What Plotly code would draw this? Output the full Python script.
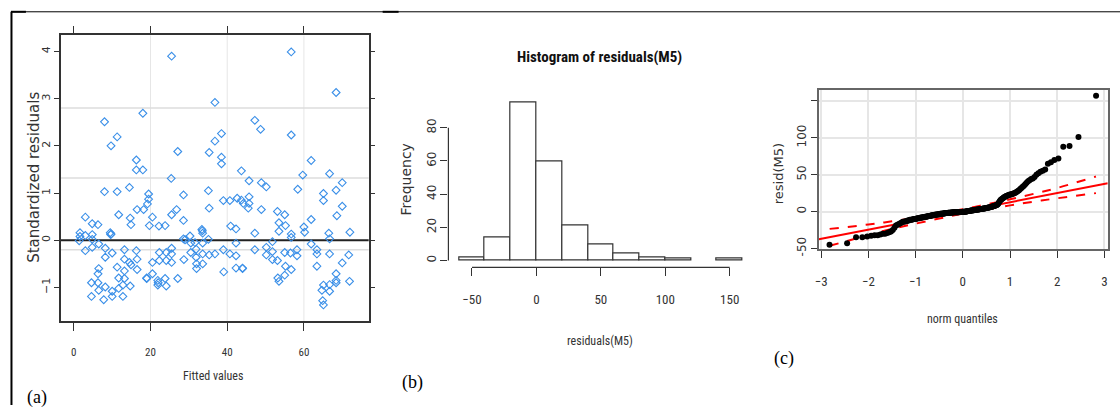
import plotly.graph_objects as go
from statistics import NormalDist

W, H = 1120, 412

# ---------------- Panel (a): standardized residuals vs fitted ----------------
fitted = [1.6, 1.6, 1.4, 3.0, 3.0, 3.0, 4.8, 4.8, 4.8, 4.8, 4.6, 4.6, 6.3, 6.5, 6.5, 6.3, 6.3, 6.5,
          8.0, 8.0, 8.2, 8.2, 8.2, 7.8, 9.7, 9.5, 9.7, 10.0, 10.0, 10.0, 11.3, 11.3, 11.7, 11.3, 11.7, 11.7,
          13.2, 13.2, 13.2, 13.2, 12.8, 12.8, 14.5, 14.7, 14.9, 14.5, 14.9, 14.7, 16.3, 16.3, 16.5, 16.3,
          16.5, 16.5, 18.0, 18.0, 18.2, 19.2, 19.5, 19.5, 19.7, 20.5, 19.0, 19.0, 20.5, 20.5, 21.9, 21.9,
          22.2, 22.3, 22.3, 23.8, 24.1, 24.1, 23.8, 24.1, 25.5, 25.4, 25.5, 25.5, 25.5, 25.5, 27.1, 26.8,
          27.1, 28.6, 28.6, 28.6, 29.0, 28.7, 30.3, 30.5, 30.5, 31.6, 31.9, 31.9, 32.0, 32.0, 33.4, 33.6,
          33.6, 33.6, 33.6, 35.1, 35.3, 35.3, 35.1, 35.3, 36.8, 36.8, 36.8, 38.5, 38.5, 38.5, 39.0, 39.0,
          39.1, 40.7, 40.9, 40.7, 42.3, 42.3, 42.3, 42.3, 42.6, 43.7, 43.7, 44.2, 44.0, 45.7, 45.7, 45.5,
          45.7, 47.2, 47.2, 47.2, 48.7, 48.9, 48.9, 50.2, 50.2, 50.2, 51.8, 51.8, 51.8, 53.1, 53.5, 53.5,
          53.1, 53.2, 53.5, 55.0, 55.2, 55.0, 55.2, 55.0, 56.7, 56.7, 56.7, 56.7, 56.5, 56.7, 58.4, 58.2,
          58.2, 59.7, 60.0, 60.2, 61.9, 61.9, 61.9, 63.4, 63.4, 63.4, 65.1, 65.1, 65.1, 64.7, 64.9, 65.1,
          66.7, 66.5, 66.7, 66.7, 66.7, 66.7, 68.4, 68.4, 68.6, 68.4, 68.4, 68.4, 70.0, 70.0, 70.0, 71.7,
          71.9, 72.0, 9.6, 33.5, 44.0, 22.0]
std_resid = [0.16, 0.08, -0.01, 0.49, 0.10, -0.22, 0.35, 0.12, 0.02, -0.15, -0.90, -1.19, 0.33, -0.08, -0.60, -0.71, -0.90, -1.06,
             2.51, 1.03, -0.17, -0.36, -0.99, -1.26, 2.00, 0.16, 0.13, -0.27, -1.08, -1.19, 2.19, 1.03, 0.54, -0.57, -0.80, -1.02,
             -0.20, -0.40, -0.65, -0.81, -0.95, -1.19, 1.12, 0.47, 0.33, -0.47, -0.52, -0.97, 1.70, 1.49, 0.65, -0.22,
             -0.40, -0.62, 2.69, 1.49, 0.65, 0.77, 0.98, 0.87, 0.31, 0.49, -0.80, -0.81, -0.47, -0.71, -0.85, -0.95,
             0.30, -0.26, -0.43, 0.31, -0.26, -0.43, -0.81, -0.97, 3.90, 1.31, 0.54, -0.17, -0.29, -0.47, 1.88, 0.65,
             -0.81, 0.96, 0.42, 0.03, 0.01, -0.41, 0.09, -0.06, -0.26, -0.05, -0.19, -0.36, -0.50, -0.60, 0.23, 0.15,
             -0.06, -0.29, -0.50, 1.05, 1.86, 0.68, 0.02, -0.31, 2.92, 2.10, -0.29, 2.26, 1.76, 1.62, 0.84, -0.20,
             -0.67, 0.84, 0.30, -0.29, 0.24, -0.06, -0.33, -0.59, 0.89, 1.47, 0.85, 0.78, -0.59, 1.26, 0.92, 0.68,
             0.78, 2.54, 0.15, -0.20, 2.35, 1.22, 0.65, 1.13, -0.15, -0.31, -0.03, -0.24, -0.41, 0.61, 0.37, 0.19,
             -0.43, -0.80, -0.87, 0.54, 0.31, -0.26, -0.55, -0.74, 3.99, 2.23, 0.13, 0.06, -0.27, -0.62, 1.08, -0.20,
             -0.33, 1.38, 0.28, 0.17, 1.69, 0.44, -0.08, -0.20, -0.29, -0.55, 0.99, 0.84, -0.95, -1.06, -1.28, -1.37,
             1.41, 0.15, 0.03, -0.29, -0.94, -1.08, 3.13, 1.06, 0.52, -0.71, -0.85, -0.90, 1.22, 0.72, -0.48, -0.31,
             -0.87, 0.17, 0.12, 0.20, -0.60, -0.90]
a_xticks = [0, 20, 40, 60]
a_yticks = [-1, 0, 1, 2, 3, 4]
a_grid_v = [20, 40, 60]
a_ref_h = [2.8, 1.32, -0.2]
a_zero = 0

# ---------------- Panel (b) / (c): raw residuals of M5 ----------------
residuals_m5 = [
    -45, -43,
    -35, -35, -34, -33, -32, -32, -31, -30, -30, -29, -28, -27, -25, -22,
    -19, -18, -17, -16,
    -15, -14, -14, -13, -13, -12, -12, -11, -11, -11,
    -10.5, -10, -10, -10, -9.5, -9, -9, -9, -8.5, -8, -8, -8, -7.5, -7.5, -7,
    -7, -7, -6.5, -6.5, -6, -6, -6, -5.5, -5.5, -5, -5, -5, -4.5, -4.5, -4.5, -4, -4, -4, -3.5, -3.5,
    -3.5, -3, -3, -3, -3, -2.5, -2.5, -2.5, -2.5, -2, -2, -2, -2, -2, -1.5, -1.5, -1.5, -1.5, -1.5, -1.2,
    -1.2, -1.2, -1.2, -1, -1, -1, -1, -1, -0.9, -0.9, -0.8, -0.8, -0.8, -0.7, -0.7, -0.6, -0.6, -0.5, -0.5,
    -0.5, -0.4, -0.4, -0.3, -0.3, -0.2, -0.1,
    0.2, 0.4, 0.5, 0.6, 0.8, 0.9, 1.0, 1.2, 1.3, 1.4, 1.5, 1.7, 1.8, 1.9, 2.0, 2.1, 2.3, 2.4, 2.5, 2.7,
    2.8, 2.9, 3.0, 3.2, 3.3, 3.5, 3.6, 3.7, 3.9, 4.0, 4.2, 4.3, 4.5, 4.7, 4.8, 5.0, 5.2, 5.4, 5.6, 5.9,
    6.1, 6.4, 6.6, 6.9, 7.1, 7.4, 7.8, 8.1, 8.5, 9.0, 9.6, 10.5,
    12.5, 14, 15.5, 16.5, 17.5, 18, 19, 19.8,
    20.5, 21, 21.5, 22, 22.5, 23, 23, 23.5, 24, 24.5, 25, 26, 27, 28, 29, 30.5, 32, 33.5, 35, 37, 39,
    41, 42.5, 44, 45, 47, 50, 52, 54, 55.5, 57,
    65, 67, 70, 72,
    88, 89,
    101,
    157,
]
hist_start, hist_end, hist_size = -60, 160, 20
b_xticks = [-50, 0, 50, 100, 150]
b_yticks = [0, 20, 40, 60, 80]

fit_intercept = 0.2
fit_slope = 12.4
env_q = [-2.82, -2.0, -1.5, -1.0, -0.5, 0.0, 0.5, 1.0, 1.5, 2.0, 2.82]
env_upper = [-23.5, -17.6, -13.2, -8.4, -2.9, 3.2, 9.7, 16.6, 24.0, 32.0, 47.5]
env_lower = [-46.5, -32.0, -23.6, -16.4, -9.5, -2.9, 2.9, 8.4, 13.4, 18.0, 25.0]
c_xticks = [-3, -2, -1, 0, 1, 2, 3]
c_yticks = [-50, 0, 50, 100, 150]
c_yticktext = ["-50", "0", "50", "100", ""]

# ---------------- helpers ----------------
def fx(p):
    return p / W

def fy(p):
    return 1 - p / H

NARROW = "Liberation Sans Narrow, Arial Narrow, Roboto Condensed, Liberation Sans, sans-serif"
WIDE = "DejaVu Sans, Verdana, sans-serif"
SERIF = "Liberation Serif, Times New Roman, serif"
TXT = "#333333"

fig = go.Figure()

# (a) scatter
fig.add_trace(go.Scatter(x=fitted, y=std_resid, mode="markers", xaxis="x", yaxis="y",
                         marker=dict(symbol="diamond-open", size=6, color="#3a8fe8",
                                     line=dict(width=1.1, color="#3a8fe8")),
                         showlegend=False, hoverinfo="skip"))

# (b) histogram
fig.add_trace(go.Histogram(x=residuals_m5, xaxis="x2", yaxis="y2",
                           xbins=dict(start=hist_start, end=hist_end, size=hist_size),
                           marker=dict(color="white", line=dict(color="#333333", width=1.2)),
                           showlegend=False, hoverinfo="skip"))

# (c) QQ plot
res_sorted = sorted(residuals_m5)
n = len(res_sorted)
nd = NormalDist()
theo_q = [nd.inv_cdf((i - 0.5) / n) for i in range(1, n + 1)]
c_xrange = [-3.05, 3.07]
c_yrange = [-50.8, 164.7]
fig.add_trace(go.Scatter(x=c_xrange, y=[fit_intercept + fit_slope * v for v in c_xrange],
                         mode="lines", xaxis="x3", yaxis="y3",
                         line=dict(color="red", width=2), showlegend=False, hoverinfo="skip"))
fig.add_trace(go.Scatter(x=env_q, y=env_upper, mode="lines", xaxis="x3", yaxis="y3",
                         line=dict(color="red", width=2, dash="dash", shape="spline"),
                         showlegend=False, hoverinfo="skip"))
fig.add_trace(go.Scatter(x=env_q, y=env_lower, mode="lines", xaxis="x3", yaxis="y3",
                         line=dict(color="red", width=2, dash="dash", shape="spline"),
                         showlegend=False, hoverinfo="skip"))
fig.add_trace(go.Scatter(x=theo_q, y=res_sorted, mode="markers", xaxis="x3", yaxis="y3",
                         marker=dict(symbol="circle", size=6, color="black"),
                         showlegend=False, hoverinfo="skip"))

shapes = []
# (a) grid/reference lines
for v in a_grid_v:
    shapes.append(dict(type="line", xref="x", yref="y domain", x0=v, x1=v, y0=0, y1=1,
                       line=dict(color="#e6e6e6", width=1), layer="below"))
for v in a_ref_h:
    shapes.append(dict(type="line", xref="x domain", yref="y", x0=0, x1=1, y0=v, y1=v,
                       line=dict(color="#dddddd", width=1.5), layer="below"))
shapes.append(dict(type="line", xref="x domain", yref="y", x0=0, x1=1, y0=a_zero, y1=a_zero,
                   line=dict(color="#222222", width=2), layer="below"))
# (b) R-style axis lines
shapes.append(dict(type="line", xref="x2", yref="y2 domain", x0=b_xticks[0], x1=b_xticks[-1], y0=0, y1=0,
                   line=dict(color="#333333", width=1.2)))
shapes.append(dict(type="line", xref="x2 domain", yref="y2", x0=0, x1=0, y0=b_yticks[0], y1=b_yticks[-1],
                   line=dict(color="#333333", width=1.2)))
# outer frame
shapes.append(dict(type="line", xref="paper", yref="paper", x0=fx(7.5), x1=fx(7.5), y0=fy(12), y1=fy(412),
                   line=dict(color="black", width=2)))
shapes.append(dict(type="line", xref="paper", yref="paper", x0=fx(7), x1=1, y0=fy(12), y1=fy(12),
                   line=dict(color="black", width=1)))
shapes.append(dict(type="line", xref="paper", yref="paper", x0=fx(7), x1=fx(22), y0=fy(12), y1=fy(12),
                   line=dict(color="black", width=2)))
shapes.append(dict(type="line", xref="paper", yref="paper", x0=fx(380), x1=fx(396), y0=fy(12), y1=fy(12),
                   line=dict(color="black", width=2)))

def ann(text, x, y, size, family, rot=0, bold=False, color=TXT):
    t = f"<b>{text}</b>" if bold else text
    return dict(text=t, x=fx(x), y=fy(y), xref="paper", yref="paper", showarrow=False,
                xanchor="center", yanchor="middle", textangle=rot,
                font=dict(size=size, family=family, color=color))

annotations = [
    ann("Standardized residuals", 30, 180, 15, WIDE, rot=-90),
    ann("Fitted values", 210, 383, 12, NARROW),
    ann("Histogram of residuals(M5)", 598, 58, 15, NARROW, bold=True, color="#111111"),
    ann("Frequency", 403, 183, 14, WIDE, rot=-90),
    ann("residuals(M5)", 598, 347, 12, NARROW),
    ann("resid(M5)", 778, 177, 13, WIDE, rot=-90),
    ann("norm quantiles", 962, 325, 12, NARROW),
    ann("(a)", 33, 404, 18, SERIF, color="black"),
    ann("(b)", 410, 389, 18, SERIF, color="black"),
    ann("(c)", 783, 365, 18, SERIF, color="black"),
]

common = dict(zeroline=False, tickcolor="#333333", ticks="outside")

fig.update_layout(
    width=W, height=H, margin=dict(l=0, r=0, t=0, b=0),
    paper_bgcolor="white", plot_bgcolor="white", showlegend=False, bargap=0,
    shapes=shapes, annotations=annotations,
    xaxis=dict(domain=[fx(57), fx(366)], range=[-3.4, 76.9], anchor="y", tickvals=a_xticks,
               showline=True, mirror="ticks", linecolor="#333333", linewidth=1.5, showgrid=False,
               ticklen=8, ticklabelstandoff=12, tickfont=dict(size=11, family=NARROW, color=TXT), **common),
    yaxis=dict(domain=[fy(327), fy(36)], range=[-1.72, 4.34], anchor="x", tickvals=a_yticks,
               showline=True, mirror="ticks", linecolor="#333333", linewidth=1.5, showgrid=False,
               ticklen=5, tickangle=-90, tickfont=dict(size=11, family=WIDE, color=TXT), **common),
    xaxis2=dict(domain=[fx(446), fx(745)], range=[-68.3, 162.9], anchor="y2", tickvals=b_xticks,
                showline=False, showgrid=False, ticklen=8, ticklabelstandoff=12,
                tickfont=dict(size=13, family=NARROW, color=TXT), **common),
    yaxis2=dict(domain=[fy(272), fy(95)], range=[-4.15, 100.7], anchor="x2", tickvals=b_yticks,
                showline=False, showgrid=False, ticklen=7, tickangle=-90,
                tickfont=dict(size=12, family=WIDE, color=TXT), **common),
    xaxis3=dict(domain=[fx(817.7), fx(1107.7)], range=c_xrange, anchor="y3", tickvals=c_xticks,
                showline=True, mirror=True, linecolor="#666666", linewidth=1.5,
                showgrid=True, gridcolor="#e6e6e6", gridwidth=1.5, ticklen=7, ticklabelstandoff=13,
                tickfont=dict(size=13, family=NARROW, color=TXT), **common),
    yaxis3=dict(domain=[fy(253.3), fy(91.7)], range=c_yrange, anchor="x3", tickvals=c_yticks,
                ticktext=c_yticktext, showline=True, mirror=True, linecolor="#666666", linewidth=1.5,
                showgrid=True, gridcolor="#e6e6e6", gridwidth=1.5, ticklen=6, tickangle=-90,
                tickfont=dict(size=12, family=WIDE, color=TXT), **common),
)

fig.write_html("out.html", config={"displayModeBar": False},
               post_script="document.body.style.margin='0px';document.body.style.overflow='hidden';")
